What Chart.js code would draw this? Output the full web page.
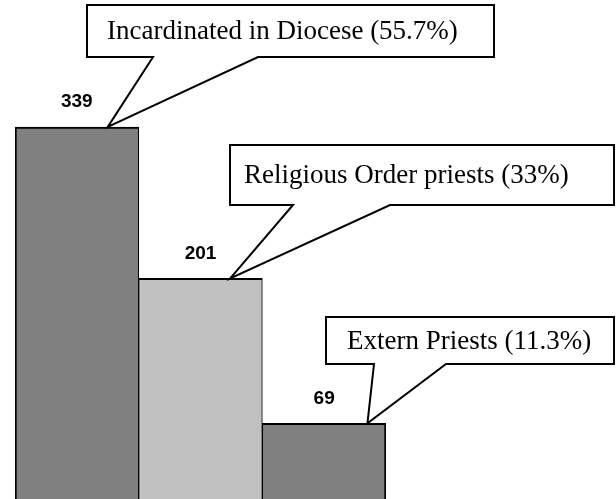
<!DOCTYPE html>
<html>
<head>
<meta charset="utf-8">
<script src="https://cdn.jsdelivr.net/npm/chart.js@4/dist/chart.umd.min.js"></script>
<style>
html,body{margin:0;padding:0;background:#fff;overflow:hidden;}
#wrap{width:616px;height:499px;position:relative;}
</style>
</head>
<body>
<div id="wrap"><canvas id="c" width="616" height="499"></canvas></div>
<script>
const categories = ["Incardinated in Diocese", "Religious Order priests", "Extern Priests"];
const counts = [339, 201, 69];
const shares = ["55.7%", "33%", "11.3%"];
const barColors = ["#808080", "#c0c0c0", "#808080"];

// callout layout (pixels): box rect, leg tops, tip position as fraction of bar width
const callouts = [
  {x1: 87, y1: 5, x2: 494, y2: 57, legA: 153, legB: 258, tipFrac: 0.75, tx: 107},
  {x1: 230, y1: 145, x2: 614, y2: 205, legA: 293, legB: 390, tipFrac: 0.74, tx: 244},
  {x1: 326, y1: 317, x2: 614, y2: 364, legA: 374, legB: 446, tipFrac: 0.85, tx: 347}
];

const overlay = {
  id: 'overlay',
  afterDatasetsDraw(chart) {
    const ctx = chart.ctx;
    const meta = chart.getDatasetMeta(0);
    ctx.save();
    // value labels
    ctx.fillStyle = '#000';
    ctx.font = 'bold 19px "Liberation Sans", Arial, sans-serif';
    ctx.textAlign = 'center';
    ctx.textBaseline = 'middle';
    meta.data.forEach((bar, i) => {
      ctx.fillText(String(counts[i]), bar.x, bar.y - 25);
    });
    // callouts
    meta.data.forEach((bar, i) => {
      const c = callouts[i];
      const left = bar.x - bar.width / 2;
      const tipX = left + c.tipFrac * bar.width;
      const tipY = bar.y;
      ctx.beginPath();
      ctx.moveTo(c.x1, c.y1);
      ctx.lineTo(c.x2, c.y1);
      ctx.lineTo(c.x2, c.y2);
      ctx.lineTo(c.legB, c.y2);
      ctx.lineTo(tipX, tipY);
      ctx.lineTo(c.legA, c.y2);
      ctx.lineTo(c.x1, c.y2);
      ctx.closePath();
      ctx.fillStyle = '#fff';
      ctx.fill();
      ctx.lineWidth = 2;
      ctx.lineJoin = 'miter';
      ctx.strokeStyle = '#000';
      ctx.stroke();
      ctx.fillStyle = '#000';
      ctx.font = '27px "Liberation Serif", "Times New Roman", serif';
      ctx.textAlign = 'left';
      ctx.textBaseline = 'middle';
      ctx.fillText(categories[i] + ' (' + shares[i] + ')', c.tx, (c.y1 + c.y2) / 2 + 1);
    });
    ctx.restore();
  }
};

new Chart(document.getElementById('c'), {
  type: 'bar',
  data: {
    labels: categories,
    datasets: [{
      data: counts,
      backgroundColor: barColors,
      borderColor: '#000',
      borderWidth: (ctx) => ({top: 2, left: ctx.dataIndex === 0 ? 2 : 1, right: ctx.dataIndex === 2 ? 2 : 1, bottom: 0}),
      borderSkipped: 'start',
      barPercentage: 1,
      categoryPercentage: 1
    }]
  },
  options: {
    responsive: false,
    animation: false,
    devicePixelRatio: 1,
    layout: {padding: {left: 15, right: 230, top: 0, bottom: 0}},
    plugins: {legend: {display: false}, tooltip: {enabled: false}, title: {display: false}},
    scales: {
      x: {display: false},
      y: {display: false, min: 0, max: 454.7}
    }
  },
  plugins: [overlay]
});
</script>
</body>
</html>
